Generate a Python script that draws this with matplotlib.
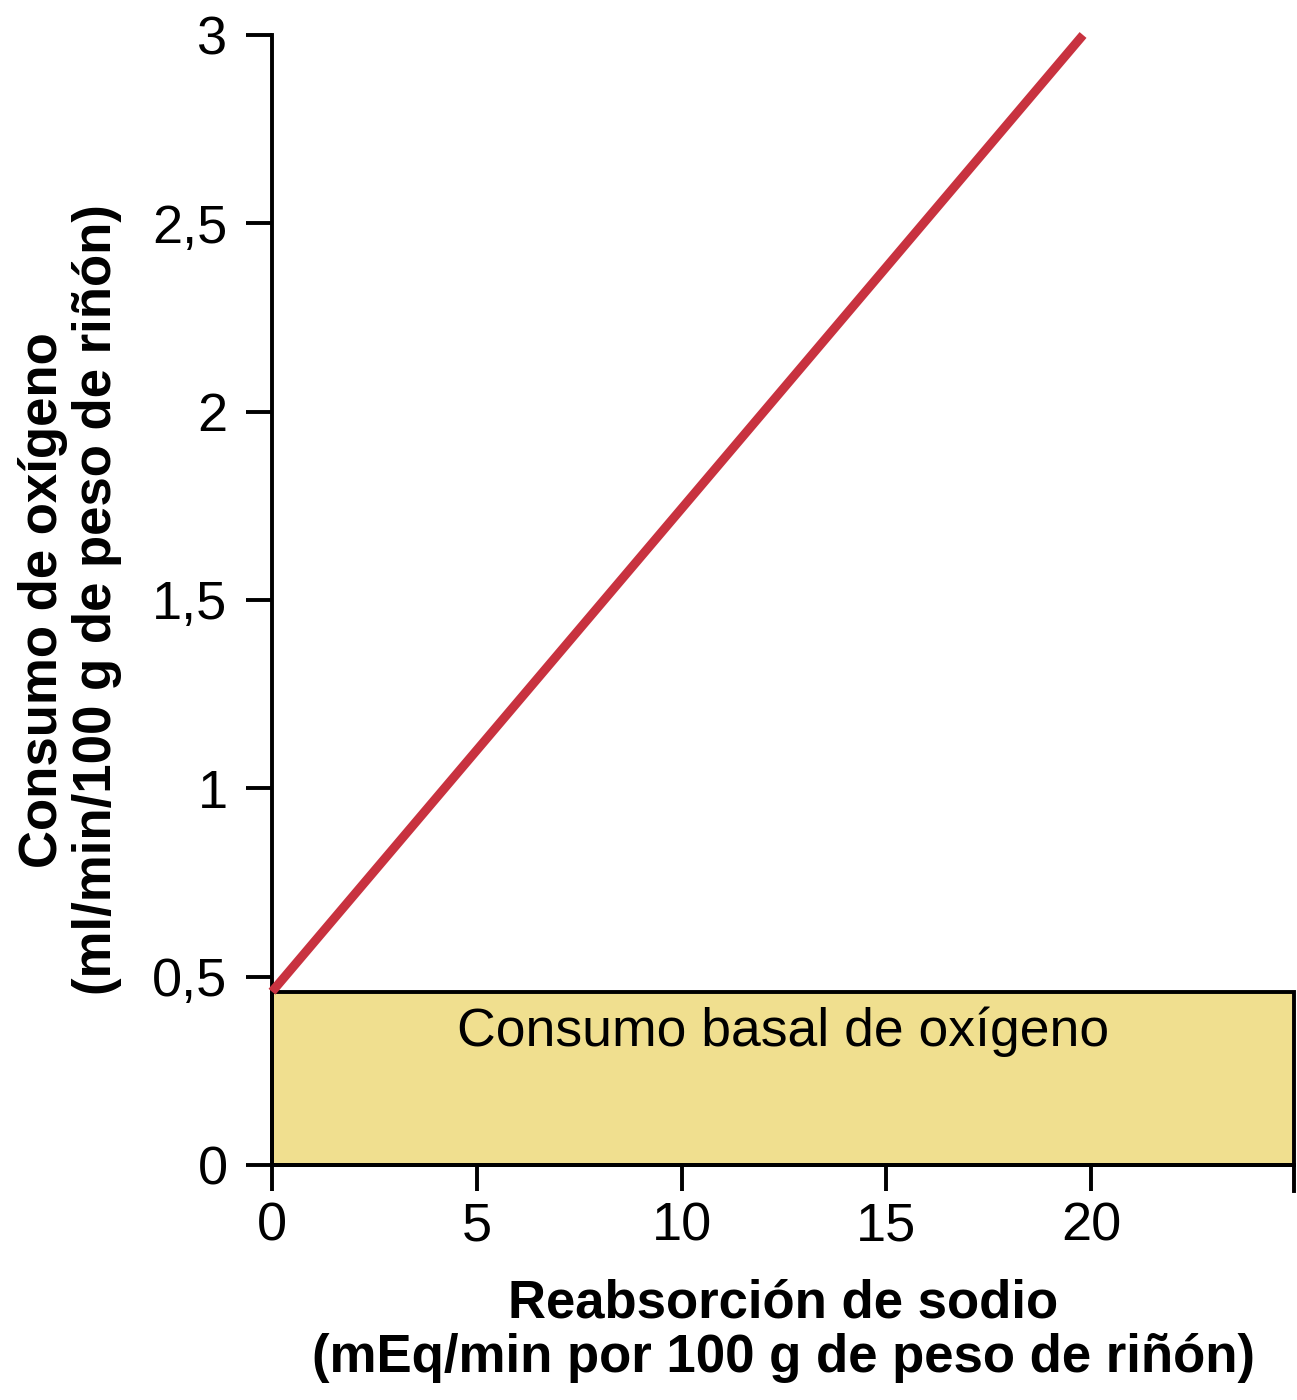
import matplotlib.pyplot as plt
from matplotlib.patches import Rectangle

plt.rcParams['font.family'] = ['Liberation Sans', 'DejaVu Sans']

# data
sodio = [0, 19.8]          # reabsorcion de sodio
oxigeno = [0.46, 3.0]      # consumo de oxigeno
basal = 0.46               # consumo basal
x_max = 24.95
xticks = [0, 5, 10, 15, 20]
xticklabels = ['0', '5', '10', '15', '20']
yticks = [0, 0.5, 1, 1.5, 2, 2.5, 3]
yticklabels = ['0', '0,5', '1', '1,5', '2', '2,5', '3']

fig = plt.figure(figsize=(12.97, 14), dpi=100)
ax = fig.add_axes([272/1297, 235/1400, 1022/1297, 1130/1400])

ax.add_patch(Rectangle((0, 0), x_max, basal, facecolor='#f0df8f',
                       edgecolor='black', linewidth=2.8, zorder=2, clip_on=False))
ax.text(x_max/2, 0.355, 'Consumo basal de oxígeno', ha='center', va='center',
        fontsize=38.5, zorder=3)
ax.plot(sodio, oxigeno, color='#c8323f', linewidth=6.5, solid_capstyle='butt',
        zorder=4, clip_on=False)

ax.set_xlim(0, x_max)
ax.set_ylim(0, 3)
ax.set_xticks(xticks)
ax.set_xticklabels(xticklabels)
ax.set_yticks(yticks)
ax.set_yticklabels(yticklabels)
ax.tick_params(axis='both', labelsize=39, length=19, width=2.8)
ax.tick_params(axis='y', pad=13)
ax.tick_params(axis='x', pad=7)
ax.spines['top'].set_visible(False)
ax.spines['right'].set_visible(False)
ax.spines['left'].set_linewidth(2.8)
ax.spines['bottom'].set_linewidth(2.8)
# small mark at the right end of the x axis
ax.plot([x_max, x_max], [0, -0.07], color='black', linewidth=2.8, clip_on=False)

ax.set_xlabel('Reabsorción de sodio\n(mEq/min por 100 g de peso de riñón)',
              fontsize=38, fontweight='bold', labelpad=20, linespacing=1.1)
ax.set_ylabel('Consumo de oxígeno\n(ml/min/100 g de peso de riñón)',
              fontsize=38, fontweight='bold', labelpad=22, linespacing=1.1)

fig.savefig('out.png', dpi=100)
